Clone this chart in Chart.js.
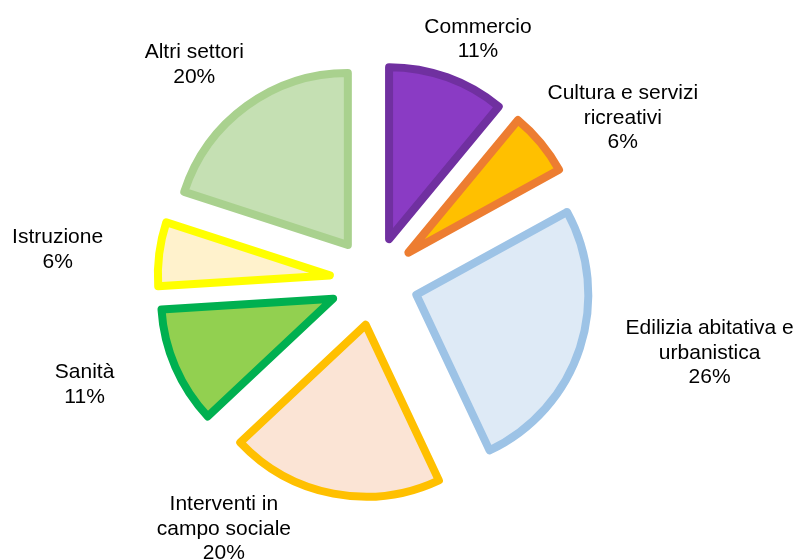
<!DOCTYPE html>
<html>
<head>
<meta charset="utf-8">
<script src="https://cdn.jsdelivr.net/npm/chart.js@4.4.0/dist/chart.umd.min.js"></script>
<style>
  html, body { margin: 0; padding: 0; background: #fff; }
  #wrap { width: 799px; height: 560px; position: relative; }
</style>
</head>
<body>
<div id="wrap"><canvas id="pie"></canvas></div>
<script>
const categories = [
  ['Commercio'],
  ['Cultura e servizi', 'ricreativi'],
  ['Edilizia abitativa e', 'urbanistica'],
  ['Interventi in', 'campo sociale'],
  ['Sanità'],
  ['Istruzione'],
  ['Altri settori']
];
const shares = [11, 6, 26, 20, 11, 6, 20];

const fillColors = ['#8A3BC4', '#FFC000', '#DEEAF6', '#FBE4D5', '#92D050', '#FFF2CC', '#C5E0B3'];
const edgeColors = ['#7030A0', '#ED7D31', '#9DC3E6', '#FFC000', '#00B050', '#FFFF00', '#A9D18E'];

// where each label sits: turn from the slice's middle (deg) and distance from the pie centre (px)
const labelTurn = [3.4, 6.2, -6.1, 20.5, 3.9, -1.4, -3.6];
const labelDist = [264, 298, 343, 289, 307, 318, 282];

const explodePlugin = {
  id: 'explode',
  beforeDatasetDraw(chart, args, opts) {
    const ctx = chart.ctx;
    args.meta.data.forEach(arc => {
      const mid = (arc.startAngle + arc.endAngle) / 2;
      ctx.save();
      ctx.translate(Math.cos(mid) * opts.distance, Math.sin(mid) * opts.distance);
      arc.draw(ctx, chart.chartArea);
      ctx.restore();
    });
    return false;
  }
};

const labelPlugin = {
  id: 'sliceLabels',
  afterDraw(chart) {
    const ctx = chart.ctx;
    const meta = chart.getDatasetMeta(0);
    const lineH = 24.5;
    ctx.save();
    ctx.font = '21px "Liberation Sans", Arial, sans-serif';
    ctx.fillStyle = '#000';
    ctx.textAlign = 'center';
    ctx.textBaseline = 'middle';
    meta.data.forEach((arc, i) => {
      const ang = (arc.startAngle + arc.endAngle) / 2 + labelTurn[i] * Math.PI / 180;
      const x = arc.x + Math.cos(ang) * labelDist[i];
      const y = arc.y + Math.sin(ang) * labelDist[i];
      const lines = categories[i].concat([shares[i] + '%']);
      lines.forEach((t, k) => {
        ctx.fillText(t, x, y + 1 + (k - (lines.length - 1) / 2) * lineH);
      });
    });
    ctx.restore();
  }
};

new Chart(document.getElementById('pie'), {
  type: 'pie',
  data: {
    labels: categories.map(c => c.join(' ')),
    datasets: [{
      data: shares,
      backgroundColor: fillColors,
      borderColor: edgeColors,
      borderWidth: 8,
      borderJoinStyle: 'round',
      offset: 0,
      hoverOffset: 0
    }]
  },
  options: {
    responsive: true,
    maintainAspectRatio: false,
    animation: false,
    events: [],
    radius: 172,
    layout: { padding: { left: 0, right: 51, top: 2, bottom: 0 } },
    plugins: {
      legend: { display: false },
      tooltip: { enabled: false },
      explode: { distance: 44.5 }
    }
  },
  plugins: [explodePlugin, labelPlugin]
});
</script>
</body>
</html>
